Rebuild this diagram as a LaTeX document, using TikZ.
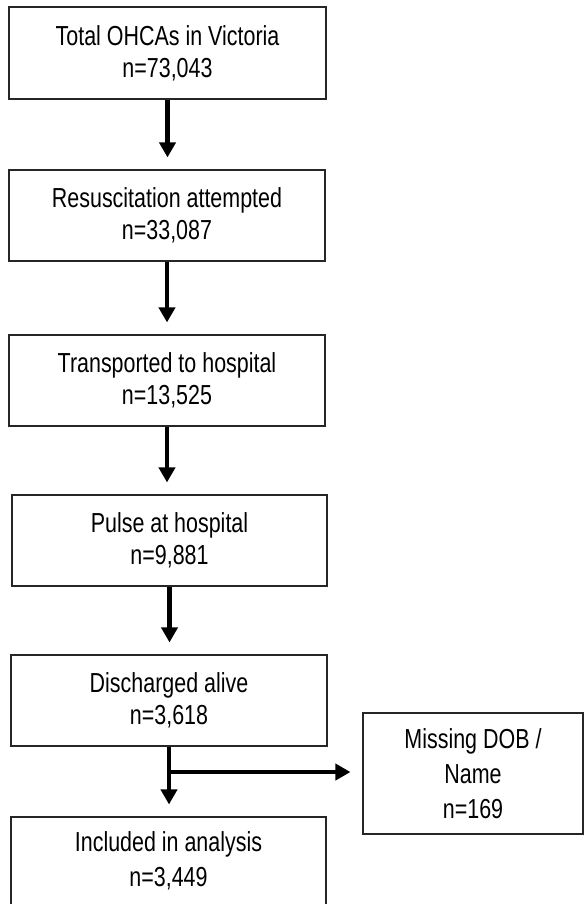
\documentclass[tikz,border=0pt]{standalone}
\usepackage{fontspec}
\setmainfont{Liberation Sans}[FakeStretch=0.78]
\usetikzlibrary{arrows.meta}
\begin{document}
\begin{tikzpicture}[x=1pt,y=1pt,
  box/.style={draw=black!85, line width=1.1pt, align=center, inner sep=0pt,
    font=\fontsize{27.5}{32}\selectfont},
  widebox/.style={font=\fontsize{27.5}{35}\selectfont},
  arr/.style={line width=4.5pt, -{Triangle[length=15pt,width=16pt]}, shorten >=12pt}]
\useasboundingbox (0,0) rectangle (584,904);
\clip (0,0) rectangle (584,904);
\node[box, minimum width=317pt, minimum height=92pt] (b1) at (167.5,851) {Total OHCAs in Victoria\\n=73,043};
\node[box, minimum width=316pt, minimum height=91pt] (b2) at (167,688.5) {Resuscitation attempted\\n=33,087};
\node[box, minimum width=316pt, minimum height=91pt] (b3) at (167,523.5) {Transported to hospital\\n=13,525};
\node[box, minimum width=315pt, minimum height=91pt] (b4) at (169.5,363.5) {Pulse at hospital\\n=9,881};
\node[box, minimum width=316pt, minimum height=91pt] (b5) at (169,203.5) {Discharged alive\\n=3,618};
\node[box, widebox, minimum width=315pt, minimum height=88pt] (b6) at (168.5,43) {Included in analysis\\n=3,449};
\node[box, widebox, minimum width=220pt, minimum height=121pt] (m) at (473,130.5) {Missing DOB /\\Name\\n=169};
\draw[arr] (b1.south) -- (b1.south |- b2.north);
\draw[arr] (b2.south) -- (b2.south |- b3.north);
\draw[arr] (b3.south) -- (b3.south |- b4.north);
\draw[arr] (b4.south) -- (b4.south |- b5.north);
\draw[arr] (b5.south) -- (b5.south |- b6.north);
\path (b5.south) ++(0,-25.5) coordinate (br);
\draw[arr] (br) -- (br -| m.west);
\end{tikzpicture}
\end{document}
